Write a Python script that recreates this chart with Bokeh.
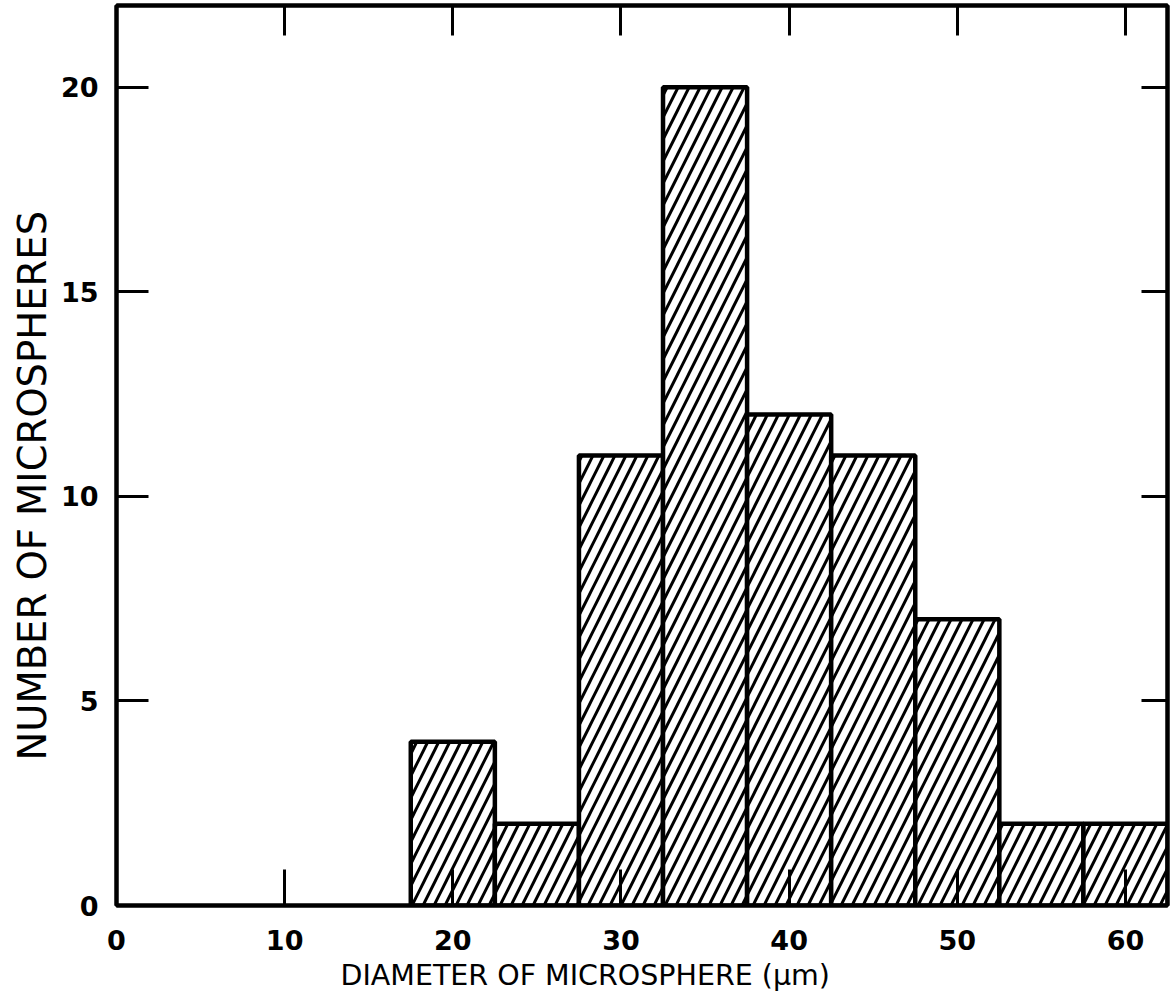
from bokeh.plotting import figure
from bokeh.models import LinearAxis, FixedTicker, Range1d, Title
from bokeh.embed import file_html
from bokeh.resources import INLINE

# Histogram of microsphere diameters (bin width 5 um)
bin_left = [17.5, 22.5, 27.5, 32.5, 37.5, 42.5, 47.5, 52.5, 57.5]
bin_right = [22.5, 27.5, 32.5, 37.5, 42.5, 47.5, 52.5, 57.5, 62.5]
counts = [4, 2, 11, 20, 12, 11, 7, 2, 2]

x_ticks = [0, 10, 20, 30, 40, 50, 60]
y_ticks = [0, 5, 10, 15, 20]

FONT = "DejaVu Sans"

p = figure(width=1172, height=1006, output_backend="svg", toolbar_location=None,
           x_range=Range1d(0, 62.5), y_range=Range1d(0, 22),
           x_axis_location=None, y_axis_location=None,
           min_border_left=116, min_border_right=5, min_border_top=5, min_border_bottom=101)
p.grid.visible = False
p.outline_line_color = "black"
p.outline_line_width = 4
p.background_fill_color = "white"
p.border_fill_color = "white"

p.quad(left=bin_left, right=bin_right, bottom=0, top=counts,
       fill_color="white", line_color="black", line_width=4.5,
       hatch_pattern="/", hatch_color="black", hatch_weight=3, hatch_scale=22)


def style(ax, tick_in, show_labels):
    ax.axis_line_color = "black"
    ax.axis_line_width = 4
    ax.major_tick_line_width = 3
    ax.major_tick_in = tick_in
    ax.major_tick_out = 0
    ax.minor_tick_line_color = None
    ax.major_label_text_font = FONT
    ax.major_label_text_font_size = "27px"
    ax.major_label_text_font_style = "bold"
    ax.major_label_text_color = "black"
    if not show_labels:
        ax.major_label_text_alpha = 0


bottom = LinearAxis(ticker=FixedTicker(ticks=x_ticks))
style(bottom, 36, True)
bottom.major_label_standoff = 24
p.add_layout(bottom, "below")

left = LinearAxis(ticker=FixedTicker(ticks=y_ticks))
style(left, 32, True)
left.major_label_standoff = 18
p.add_layout(left, "left")

top = LinearAxis(ticker=FixedTicker(ticks=[10, 20, 30, 40, 50, 60]))
style(top, 30, False)
top.major_label_text_font_size = "0px"
top.major_label_standoff = 0
p.add_layout(top, "above")

right = LinearAxis(ticker=FixedTicker(ticks=[5, 10, 15, 20]))
style(right, 26, False)
right.major_label_text_font_size = "0px"
right.major_label_standoff = 0
p.add_layout(right, "right")

xt = Title(text="DIAMETER OF MICROSPHERE (\u03bcm)", align="left", offset=224,
           text_font=FONT, text_font_size="28.5px", text_font_style="normal",
           text_color="black", standoff=9)
p.add_layout(xt, "below")

yt = Title(text="NUMBER OF MICROSPHERES", align="left", offset=145,
           text_font=FONT, text_font_size="38.5px", text_font_style="normal",
           text_color="black", standoff=6)
p.add_layout(yt, "left")

open("out.html", "w").write(file_html(p, INLINE))
